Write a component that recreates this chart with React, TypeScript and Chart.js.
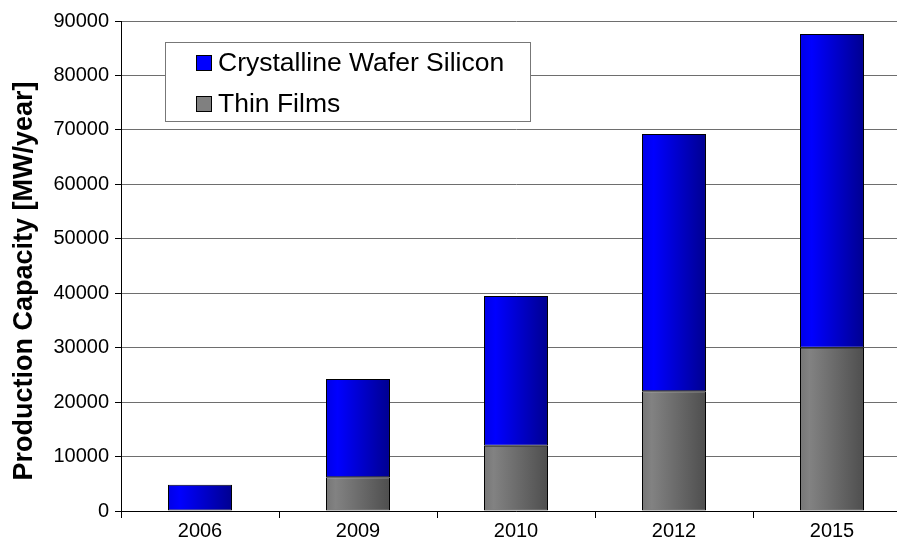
import React, { useEffect, useRef } from "react";
import { Chart, registerables } from "chart.js";

Chart.register(...registerables);

const years = ["2006", "2009", "2010", "2012", "2015"];
const thinFilms = [100, 6200, 12000, 22000, 30000];
const crystalline = [4700, 18050, 27500, 47250, 57600];
const yTicks = [0, 10000, 20000, 30000, 40000, 50000, 60000, 70000, 80000, 90000];
const yTitle = "Production Capacity [MW/year]";

const BAR_PCT = 0.405;
const FONT = "'Liberation Sans', Arial, sans-serif";

function gradient(ctx: any, stops: [number, string][]) {
  const chart = ctx.chart;
  const xs = chart.scales && chart.scales.x;
  if (!xs || ctx.dataIndex == null || !isFinite(xs.width)) return stops[0][1];
  const cx = xs.getPixelForValue(ctx.dataIndex);
  const w = (xs.width / years.length) * BAR_PCT;
  const g = chart.ctx.createLinearGradient(cx - w / 2, 0, cx + w / 2, 0);
  stops.forEach(([o, c]) => g.addColorStop(o, c));
  return g;
}

const legendPlugin = {
  id: "boxLegend",
  afterDraw(chart: any) {
    const c = chart.ctx;
    c.save();
    const x = 165, y = 42, w = 365, h = 79;
    c.fillStyle = "#fff";
    c.fillRect(x, y, w, h);
    c.strokeStyle = "#777";
    c.lineWidth = 1;
    c.strokeRect(x + 0.5, y + 0.5, w, h);
    const items = [
      { label: "Crystalline Wafer Silicon", color: "#0000ff", y: 63 },
      { label: "Thin Films", color: "#808080", y: 104 },
    ];
    c.font = `26.5px ${FONT}`;
    c.textBaseline = "middle";
    c.textAlign = "left";
    items.forEach((it) => {
      c.fillStyle = it.color;
      c.fillRect(196, it.y - 8, 16, 16);
      c.strokeStyle = "#000";
      c.strokeRect(196.5, it.y - 7.5, 15, 15);
      c.fillStyle = "#000";
      c.fillText(it.label, 218, it.y + 1);
    });
    // y-axis title
    c.translate(25, 281);
    c.rotate(-Math.PI / 2);
    c.font = `bold 27px ${FONT}`;
    c.textAlign = "center";
    c.textBaseline = "middle";
    c.fillText(yTitle, 0, 0);
    c.restore();
  },
};

export default function App() {
  const ref = useRef<HTMLCanvasElement>(null);
  useEffect(() => {
    document.body.style.margin = "0";
    const chart = new Chart(ref.current!, {
      type: "bar",
      data: {
        labels: years,
        datasets: [
          {
            label: "Thin Films",
            data: thinFilms,
            backgroundColor: (ctx: any) =>
              gradient(ctx, [
                [0, "#767676"],
                [0.15, "#828282"],
                [1, "#4e4e4e"],
              ]),
            borderColor: "#000",
            borderWidth: 1,
            borderSkipped: false,
          },
          {
            label: "Crystalline Wafer Silicon",
            data: crystalline,
            backgroundColor: (ctx: any) =>
              gradient(ctx, [
                [0, "#0000e6"],
                [0.18, "#0000ff"],
                [1, "#000090"],
              ]),
            borderColor: "#000",
            borderWidth: 1,
            borderSkipped: false,
          },
        ],
      },
      options: {
        responsive: false,
        animation: false,
        layout: { padding: { top: 21, right: 0, left: 0, bottom: 0 } },
        plugins: { legend: { display: false }, tooltip: { enabled: false } },
        datasets: { bar: { barPercentage: BAR_PCT, categoryPercentage: 1 } },
        scales: {
          x: {
            stacked: true,
            offset: true,
            grid: {
              offset: true,
              drawOnChartArea: false,
              drawTicks: true,
              tickLength: 7,
              tickColor: "#000",
            },
            border: { color: "#000", width: 1 },
            ticks: { color: "#000", font: { family: FONT, size: 20 }, padding: 1 },
            afterFit: (s: any) => {
              s.height = 33;
            },
          },
          y: {
            stacked: true,
            min: 0,
            max: 90000,
            afterBuildTicks: (s: any) => {
              s.ticks = yTicks.map((v) => ({ value: v }));
            },
            grid: { color: "#6e6e6e", tickLength: 6, tickColor: "#000" },
            border: { color: "#000", width: 1 },
            ticks: {
              color: "#000",
              font: { family: FONT, size: 20 },
              padding: 6,
              callback: (v: any) => String(v),
            },
            afterFit: (s: any) => {
              s.width = 121;
            },
          },
        },
      },
      plugins: [legendPlugin],
    } as any);
    return () => chart.destroy();
  }, []);
  return (
    <div style={{ width: 897, height: 544, overflow: "hidden" }}>
      <canvas ref={ref} width={911} height={544} style={{ display: "block" }} />
    </div>
  );
}
